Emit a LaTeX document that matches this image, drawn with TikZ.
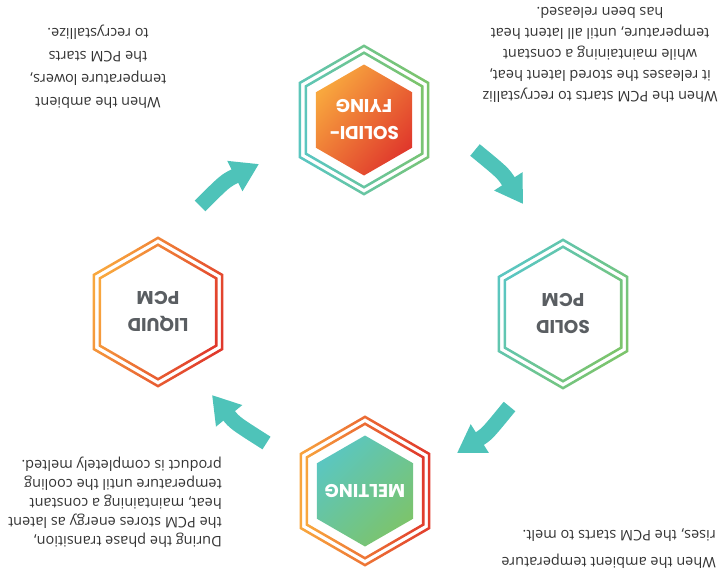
\documentclass[tikz,border=0pt]{standalone}
\usepackage{fontspec}
\usepackage{tikz}
\usetikzlibrary{arrows.meta}

\newfontfamily\notefont{Open Sans}
\newfontfamily\hexfont{Poppins}

\definecolor{pcmteal}{HTML}{5BC6C0}
\definecolor{pcmgreen}{HTML}{7CC46C}
\definecolor{pcmorange}{HTML}{F8A73E}
\definecolor{pcmred}{HTML}{E0392C}
\definecolor{pcmarrow}{HTML}{4EC3B9}
\definecolor{labelgray}{HTML}{5A5E62}
\definecolor{notegray}{HTML}{333333}

% pointy-top hexagon round the origin, #1 = corner radius
\newcommand{\hexpath}[1]{(30:#1) -- (90:#1) -- (150:#1) -- (210:#1) -- (270:#1) -- (330:#1) -- cycle}

\tikzset{
  note/.style={rotate=180, inner sep=0pt, text=notegray, font=\notefont\fontsize{14.5}{#1}\selectfont},
  hexlabel/.style={rotate=180, align=center, font=\hexfont\bfseries\fontsize{18.5}{27}\selectfont},
  flow/.style={draw=pcmarrow, line width=15pt, -{Triangle[length=27pt, width=32pt]}},
  coolring/.style={even odd rule, left color=pcmteal, right color=pcmgreen, shading angle=#1},
  warmring/.style={even odd rule, left color=pcmorange, right color=pcmred, shading angle=#1},
}

\begin{document}
\begin{tikzpicture}[x=1pt, y=-1pt]
    \useasboundingbox (0,0) rectangle (719,578);
    \clip (0,0) rectangle (719,578);

    % Centres of the four states
    \coordinate (c-solidifying) at (364,120);
    \coordinate (c-solid) at (563,314);
    \coordinate (c-melting) at (365,491);
    \coordinate (c-liquid) at (158,312);

    % Solidifying: cool rings, warm core
    \begin{scope}[shift={(c-solidifying)}]
        \shade[coolring=105] \hexpath{75.6} \hexpath{72.7};
        \shade[coolring=105] \hexpath{68.7} \hexpath{65.8};
        \shade[left color=pcmorange, right color=pcmred, shading angle=50] \hexpath{55.5};
    \end{scope}
    % Solid PCM
    \begin{scope}[shift={(c-solid)}]
        \shade[coolring=60] \hexpath{75.6} \hexpath{72.7};
        \shade[coolring=60] \hexpath{68.7} \hexpath{65.8};
    \end{scope}
    % Melting: warm rings, cool core
    \begin{scope}[shift={(c-melting)}]
        \shade[warmring=95] \hexpath{75.6} \hexpath{72.7};
        \shade[warmring=95] \hexpath{68.7} \hexpath{65.8};
        \shade[left color=pcmteal, right color=pcmgreen, shading angle=45] \hexpath{55.5};
    \end{scope}
    % Liquid PCM
    \begin{scope}[shift={(c-liquid)}]
        \shade[warmring=70] \hexpath{75.6} \hexpath{72.7};
        \shade[warmring=70] \hexpath{68.7} \hexpath{65.8};
    \end{scope}

    % Labels
    \node[hexlabel, text=white] (solidifying) at (c-solidifying) {SOLIDI-\\FYING};
    \node[hexlabel, text=labelgray] (solid) at (c-solid) {SOLID\\PCM};
    \node[hexlabel, text=white] (melting) at (c-melting) {MELTING};
    \node[hexlabel, text=labelgray] (liquid) at (c-liquid) {LIQUID\\PCM};

    % Cycle arrows
    \coordinate (l2s-a) at (200,206);
    \coordinate (l2s-b) at (259,164);
    \coordinate (s2s-a) at (475,150);
    \coordinate (s2s-b) at (523,204);
    \coordinate (s2m-a) at (509.5,406.5);
    \coordinate (s2m-b) at (457,453);
    \coordinate (m2l-a) at (266.5,443);
    \coordinate (m2l-b) at (212,395);
    \draw[flow] (l2s-a) .. controls (225,181) .. (l2s-b);
    \draw[flow] (s2s-a) .. controls (503,173) .. (s2s-b);
    \draw[flow] (s2m-a) .. controls (487,434) .. (s2m-b);
    \draw[flow] (m2l-a) .. controls (235,423) .. (m2l-b);

    % Notes
    \node[note=21, align=center] (release note) at (600,55)
        {When the PCM starts to recrystalliz\\it releases the stored latent heat,\\while maintaining a constant\\temperature, until all latent heat\\has been released.};
    \node[note=23, align=center] (lower note) at (98,67)
        {When the ambient\\temperature lowers,\\the PCM starts\\to recrystallize.};
    \node[note=19, align=left, anchor=west] (phase note) at (222,502)
        {During the phase transition,\\the PCM stores energy as latent\\heat, maintaining a constant\\temperature until the cooling\\product is completely melted.};
    \node[note=27, align=left, anchor=west] (rise note) at (716,549)
        {When the ambient temperature\\rises, the PCM starts to melt.};
\end{tikzpicture}
\end{document}
